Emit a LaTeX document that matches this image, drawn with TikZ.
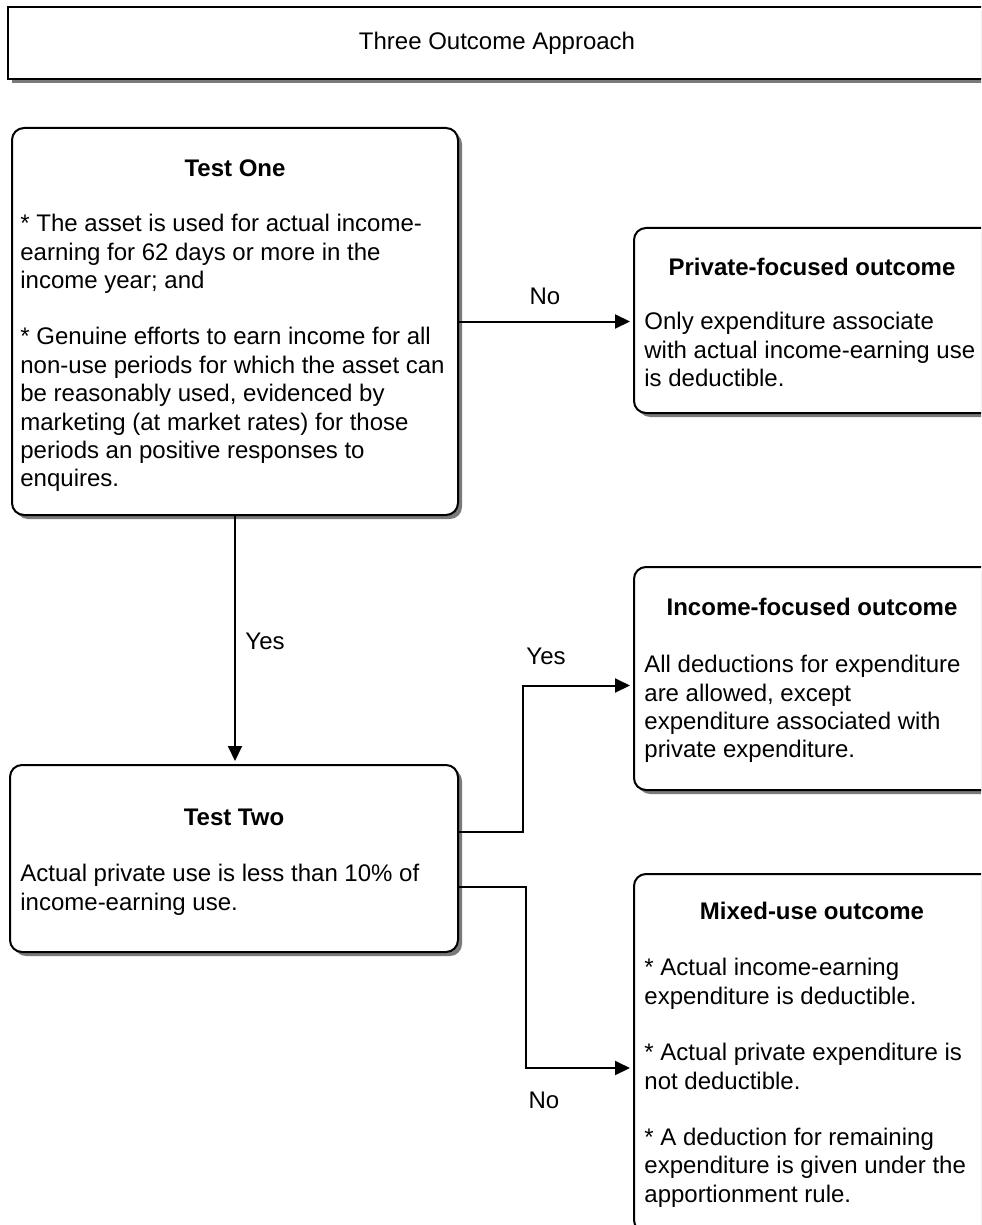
\documentclass[tikz,border=0pt]{standalone}
\usepackage{fontspec}
\setmainfont{Liberation Sans}
\usetikzlibrary{arrows.meta,fit,shadows}

\begin{document}
\begin{tikzpicture}[
    x=0.5pt, y=-0.5pt,
    box/.style={draw=black, line width=1pt, fill=white, inner sep=0pt,
      rounded corners=6pt,
      drop shadow={shadow xshift=2pt, shadow yshift=-2pt, fill=black!52, opacity=1}},
    titlebox/.style={box, sharp corners},
    head/.style={font=\fontsize{12}{14.2}\selectfont\bfseries},
    body/.style={font=\fontsize{12}{14.2}\selectfont, align=left, anchor=north west, inner sep=0pt},
    lbl/.style={font=\fontsize{12}{14.2}\selectfont},
    conn/.style={line width=1pt, -{Triangle[length=7.5pt,width=7pt]}, shorten >=1.5pt},
  ]
    %% 좌표: 1 단위 = 그림의 1 px
    \def\pgap{14pt}   % paragraph gap
    \def\rightedge{1060}
    \useasboundingbox (0,0) rectangle (981,1225);
    \clip (0,0) rectangle (981,1225);

    %% --- 제목 ---
    \node[titlebox, fit={(8,7) (\rightedge,79)}] (title) {};
    \node[lbl] (titletext) at (497,43) {Three Outcome Approach};

    %% --- Test One ---
    \node[box, fit={(12,128) (458,515)}] (testone) {};
    \node[head] (testonehead) at (235,168) {Test One};
    \node[body] (testonebody) at (20,214)
      {* The asset is used for actual income-\\
       earning for 62 days or more in the\\
       income year; and\\[\pgap]
       * Genuine efforts to earn income for all\\
       non-use periods for which the asset can\\
       be reasonably used, evidenced by\\
       marketing (at market rates) for those\\
       periods an positive responses to\\
       enquires.};

    %% --- Test Two ---
    \node[box, fit={(10,765) (458,952)}] (testtwo) {};
    \node[head] (testtwohead) at (234,817) {Test Two};
    \node[body] (testtwobody) at (20,864)
      {Actual private use is less than 10\% of\\
       income-earning use.};

    %% --- 결과 박스 (오른쪽) ---
    \node[box, fit={(634,228) (\rightedge,413)}] (private) {};
    \node[head] (privatehead) at (812,267) {Private-focused outcome};
    \node[body] (privatebody) at (644,312)
      {Only expenditure associate\\
       with actual income-earning use\\
       is deductible.};

    \node[box, fit={(634,567) (\rightedge,790)}] (income) {};
    \node[head] (incomehead) at (812,607) {Income-focused outcome};
    \node[body] (incomebody) at (644,655)
      {All deductions for expenditure\\
       are allowed, except\\
       expenditure associated with\\
       private expenditure.};

    \node[box, fit={(634,874) (\rightedge,1232)}] (mixed) {};
    \node[head] (mixedhead) at (812,911) {Mixed-use outcome};
    \node[body] (mixedbody) at (644,958)
      {* Actual income-earning\\
       expenditure is deductible.\\[\pgap]
       * Actual private expenditure is\\
       not deductible.\\[\pgap]
       * A deduction for remaining\\
       expenditure is given under the\\
       apportionment rule.};

    %% --- 연결선 ---
    \draw[conn] (testone.east) -- (private.west |- testone.east);
    \draw[conn] (testone.south) -- (testone.south |- testtwo.north);
    \draw[conn] ([yshift=13.5pt]testtwo.east) -- ++(64,0) |- ([yshift=-3.5pt]income.west);
    \draw[conn] ([yshift=-14.25pt]testtwo.east) -- ++(67,0) |- ([yshift=-7.5pt]mixed.west);

    %% --- 라벨 ---
    \node[lbl] (noone) at (545,296) {No};
    \node[lbl] (yesone) at (265,641) {Yes};
    \node[lbl] (yestwo) at (546,656) {Yes};
    \node[lbl] (notwo) at (544,1100) {No};
\end{tikzpicture}
\end{document}
